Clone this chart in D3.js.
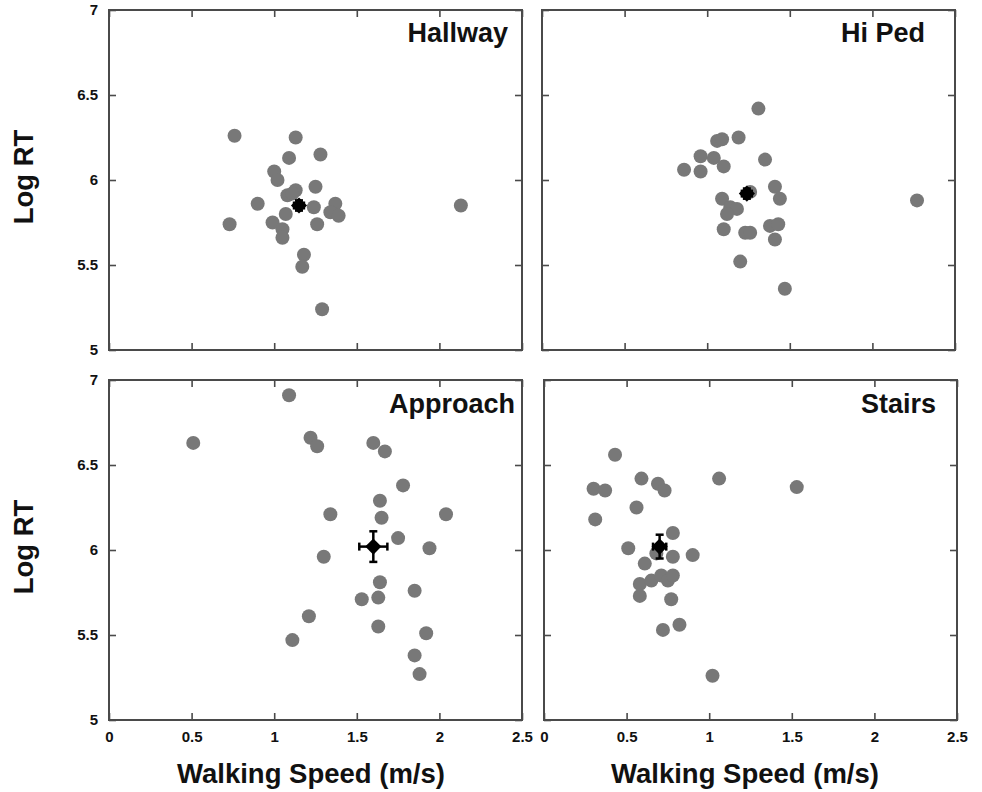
<!DOCTYPE html>
<html>
<head>
<meta charset="utf-8">
<script src="https://cdn.jsdelivr.net/npm/d3@7"></script>
<style>
  body { margin: 0; background: #fff; }
  text { font-family: "Liberation Sans", Arial, Helvetica, sans-serif; font-weight: bold; fill: #111; }
</style>
</head>
<body>
<script>
// data
const xTicks = [0, 0.5, 1, 1.5, 2, 2.5];
const yTicks = [5, 5.5, 6, 6.5, 7];
const panelNames = ["Hallway", "Hi Ped", "Approach", "Stairs"];

const hallwaySpeed = [0.76, 1.13, 1.28, 1.09, 1.00, 1.02, 1.25, 1.13, 1.08, 0.90, 1.24, 1.37, 1.34, 1.39, 1.07,
    0.73, 0.99, 1.26, 1.05, 1.05, 1.18, 1.17, 1.29, 2.13, 1.11];
const hallwayRT = [6.26, 6.25, 6.15, 6.13, 6.05, 6.00, 5.96, 5.94, 5.91, 5.86, 5.84, 5.86, 5.81, 5.79, 5.80,
    5.74, 5.75, 5.74, 5.71, 5.66, 5.56, 5.49, 5.24, 5.85, 5.92];

const hiPedSpeed = [1.31, 1.19, 1.06, 1.09, 0.96, 1.04, 1.35, 0.86, 0.96, 1.10, 1.26, 1.41, 1.44, 1.09, 1.14,
    1.18, 1.12, 1.10, 1.38, 1.43, 1.23, 1.26, 1.41, 1.20, 1.47, 2.27];
const hiPedRT = [6.42, 6.25, 6.23, 6.24, 6.14, 6.13, 6.12, 6.06, 6.05, 6.08, 5.93, 5.96, 5.89, 5.89, 5.84,
    5.83, 5.80, 5.71, 5.73, 5.74, 5.69, 5.69, 5.65, 5.52, 5.36, 5.88];

const approachSpeed = [1.09, 0.51, 1.22, 1.26, 1.60, 1.67, 1.78, 1.64, 1.34, 1.65, 2.04, 1.75, 1.94, 1.30, 1.64,
    1.85, 1.53, 1.63, 1.21, 1.63, 1.92, 1.11, 1.85, 1.88];
const approachRT = [6.91, 6.63, 6.66, 6.61, 6.63, 6.58, 6.38, 6.29, 6.21, 6.19, 6.21, 6.07, 6.01, 5.96, 5.81,
    5.76, 5.71, 5.72, 5.61, 5.55, 5.51, 5.47, 5.38, 5.27];

const stairsSpeed = [0.43, 0.59, 1.06, 0.30, 0.37, 0.69, 0.73, 1.53, 0.56, 0.31, 0.78, 0.51, 0.68, 0.78, 0.90,
    0.61, 0.58, 0.65, 0.71, 0.75, 0.78, 0.58, 0.77, 0.82, 0.72, 1.02];
const stairsRT = [6.56, 6.42, 6.42, 6.36, 6.35, 6.39, 6.35, 6.37, 6.25, 6.18, 6.10, 6.01, 5.98, 5.96, 5.97,
    5.92, 5.80, 5.82, 5.85, 5.82, 5.85, 5.73, 5.71, 5.56, 5.53, 5.26];

// group means with error bars
const meanSpeed = [1.15, 1.24, 1.60, 0.70];
const meanRT = [5.85, 5.92, 6.02, 6.02];
const errSpeed = [0.03, 0.03, 0.085, 0.04];
const errRT = [0.03, 0.03, 0.09, 0.07];

// layout
const W = 413, H = 340;
const panels = [
    { speed: hallwaySpeed, rt: hallwayRT, left: 109, top: 10, yLabels: true, xLabels: false, titleRight: 508, titleBase: 42 },
    { speed: hiPedSpeed, rt: hiPedRT, left: 542, top: 10, yLabels: false, xLabels: false, titleRight: 925, titleBase: 42 },
    { speed: approachSpeed, rt: approachRT, left: 109, top: 380, yLabels: true, xLabels: true, titleRight: 515, titleBase: 413 },
    { speed: stairsSpeed, rt: stairsRT, left: 544, top: 380, yLabels: false, xLabels: true, titleRight: 936, titleBase: 413 }
];

const svg = d3.select("body").append("svg")
    .attr("width", 982)
    .attr("height", 792);

const frame = "#4a4a4a";
const noLabel = () => "";

panels.forEach(function (p, i) {
    let x = d3.scaleLinear().domain([0, 2.5]).range([p.left, p.left + W]);
    let y = d3.scaleLinear().domain([5, 7]).range([p.top + H, p.top]);
    let g = svg.append("g");

    // inner ticks on all four sides
    g.append("g")
        .attr("transform", "translate(0," + (p.top + H) + ")")
        .call(d3.axisBottom(x).tickValues(xTicks).tickSize(-7).tickPadding(11)
            .tickFormat(p.xLabels ? d3.format("") : noLabel));
    g.append("g")
        .attr("transform", "translate(0," + p.top + ")")
        .call(d3.axisTop(x).tickValues(xTicks).tickSize(-7).tickFormat(noLabel));
    g.append("g")
        .attr("transform", "translate(" + p.left + ",0)")
        .call(d3.axisLeft(y).tickValues(yTicks).tickSize(-7).tickPadding(11)
            .tickFormat(p.yLabels ? d3.format("") : noLabel));
    g.append("g")
        .attr("transform", "translate(" + (p.left + W) + ",0)")
        .call(d3.axisRight(y).tickValues(yTicks).tickSize(-7).tickFormat(noLabel));

    g.selectAll(".domain").remove();
    g.selectAll(".tick line").attr("stroke", frame).attr("stroke-width", 1.6);
    g.selectAll(".tick text")
        .style("font-size", "15px")
        .style("font-family", "'Liberation Sans', Arial, sans-serif")
        .style("font-weight", "bold")
        .attr("fill", "#111");

    g.append("rect")
        .attr("x", p.left)
        .attr("y", p.top)
        .attr("width", W)
        .attr("height", H)
        .attr("fill", "none")
        .attr("stroke", frame)
        .attr("stroke-width", 2);

    g.selectAll("circle.pt")
        .data(p.speed)
        .enter().append("circle")
        .attr("class", "pt")
        .attr("cx", d => x(d))
        .attr("cy", (d, j) => y(p.rt[j]))
        .attr("r", 7)
        .attr("fill", "#787878");

    // mean with error bars
    let mx = x(meanSpeed[i]), my = y(meanRT[i]);
    let x0 = x(meanSpeed[i] - errSpeed[i]), x1 = x(meanSpeed[i] + errSpeed[i]);
    let y0 = y(meanRT[i] - errRT[i]), y1 = y(meanRT[i] + errRT[i]);
    let eb = g.append("g").attr("stroke", "#000").attr("stroke-width", 2.5);
    eb.append("line").attr("x1", x0).attr("x2", x1).attr("y1", my).attr("y2", my);
    eb.append("line").attr("x1", mx).attr("x2", mx).attr("y1", y0).attr("y2", y1);
    eb.append("line").attr("x1", x0).attr("x2", x0).attr("y1", my - 4).attr("y2", my + 4);
    eb.append("line").attr("x1", x1).attr("x2", x1).attr("y1", my - 4).attr("y2", my + 4);
    eb.append("line").attr("x1", mx - 4).attr("x2", mx + 4).attr("y1", y0).attr("y2", y0);
    eb.append("line").attr("x1", mx - 4).attr("x2", mx + 4).attr("y1", y1).attr("y2", y1);
    g.append("path")
        .attr("d", d3.symbol().type(d3.symbolSquare).size(130)())
        .attr("transform", "translate(" + mx + "," + my + ") rotate(45)")
        .attr("fill", "#000");

    g.append("text")
        .attr("x", p.titleRight)
        .attr("y", p.titleBase)
        .attr("text-anchor", "end")
        .style("font-size", "27px")
        .text(panelNames[i]);
});

// axis titles
[177, 547].forEach(function (cy) {
    svg.append("text")
        .attr("transform", "translate(33," + cy + ") rotate(-90)")
        .attr("text-anchor", "middle")
        .style("font-size", "27.5px")
        .text("Log RT");
});
[311, 745].forEach(function (cx) {
    svg.append("text")
        .attr("x", cx)
        .attr("y", 783)
        .attr("text-anchor", "middle")
        .style("font-size", "27.5px")
        .text("Walking Speed (m/s)");
});
</script>
</body>
</html>
